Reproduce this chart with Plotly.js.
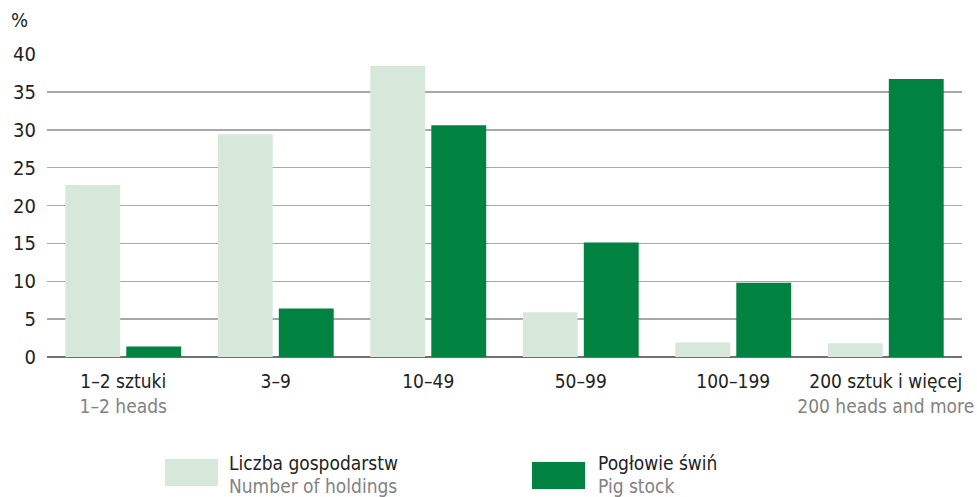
<!DOCTYPE html>
<html>
<head>
<meta charset="utf-8">
<script src="https://cdn.plot.ly/plotly-3.0.1.min.js"></script>
<style>html,body{margin:0;padding:0;background:#fff;}</style>
</head>
<body>
<div id="chart" style="width:977px;height:497px;"></div>
<script>
const categoriesPl = ["1–2 sztuki", "3–9", "10–49", "50–99", "100–199", "200 sztuk i więcej"];
const categoriesEn = ["1–2 heads", "", "", "", "", "200 heads and more"];
const holdings = [22.7, 29.4, 38.4, 5.9, 1.9, 1.8];
const pigStock = [1.4, 6.4, 30.6, 15.1, 9.8, 36.7];
const seriesPl = ["Liczba gospodarstw", "Pogłowie świń"];
const seriesEn = ["Number of holdings", "Pig stock"];
const yTicks = [0, 5, 10, 15, 20, 25, 30, 35, 40];

const FONT = "'Liberation Sans Narrow', 'DejaVu Sans Condensed', Roboto, sans-serif";
const LIGHT = "#d6e8da", DARK = "#008341", GREY = "#828282";

const ticktext = categoriesPl.map((c, i) => categoriesEn[i] ? c + '<br><span style="color:' + GREY + '">' + categoriesEn[i] + '</span>' : c);

const traces = [
  {type: "bar", x: categoriesPl, y: holdings, name: seriesPl[0], marker: {color: LIGHT}, hoverinfo: "y"},
  {type: "bar", x: categoriesPl, y: pigStock, name: seriesPl[1], marker: {color: DARK}, hoverinfo: "y"}
];

const px = x => (x - 47) / 915;
const py = y => (357 - y) / 303;

const layout = {
  width: 977, height: 497,
  margin: {l: 47, r: 15, t: 54, b: 140},
  paper_bgcolor: "#fff", plot_bgcolor: "#fff",
  barmode: "group", bargap: 0.2, bargroupgap: 0.1,
  showlegend: false,
  font: {family: FONT, size: 20, color: "#222"},
  xaxis: {
    type: "category", tickvals: categoriesPl, ticktext: ticktext,
    showgrid: false, showline: false, ticks: "", zeroline: false,
    ticklabelstandoff: 11,
    tickfont: {family: FONT, size: 19, color: "#222"}
  },
  yaxis: {
    range: [0, 40], tickvals: yTicks, ticktext: yTicks.map(String),
    showgrid: true, gridcolor: "#a8a8a8", gridwidth: 1.5,
    zeroline: true, zerolinecolor: "#707070", zerolinewidth: 2,
    showline: false, ticks: "", ticklabelstandoff: 10,
    tickfont: {family: FONT, size: 20, color: "#222"}
  },
  shapes: [
    {type: "rect", xref: "paper", yref: "paper", x0: px(165), x1: px(218), y0: py(459), y1: py(486), fillcolor: LIGHT, line: {width: 0}},
    {type: "rect", xref: "paper", yref: "paper", x0: px(532), x1: px(585), y0: py(462), y1: py(489), fillcolor: DARK, line: {width: 0}}
  ],
  annotations: [
    {text: "%", xref: "paper", yref: "paper", x: px(9), y: py(20), xanchor: "left", yanchor: "middle", showarrow: false, font: {family: FONT, size: 20, color: "#222"}},
    {text: seriesPl[0], xref: "paper", yref: "paper", x: px(227), y: py(463), xanchor: "left", yanchor: "middle", showarrow: false, font: {family: FONT, size: 19, color: "#222"}},
    {text: seriesEn[0], xref: "paper", yref: "paper", x: px(227), y: py(486), xanchor: "left", yanchor: "middle", showarrow: false, font: {family: FONT, size: 19, color: GREY}},
    {text: seriesPl[1], xref: "paper", yref: "paper", x: px(596), y: py(463), xanchor: "left", yanchor: "middle", showarrow: false, font: {family: FONT, size: 19, color: "#222"}},
    {text: seriesEn[1], xref: "paper", yref: "paper", x: px(596), y: py(486), xanchor: "left", yanchor: "middle", showarrow: false, font: {family: FONT, size: 19, color: GREY}}
  ]
};

Plotly.newPlot("chart", traces, layout, {displayModeBar: false, staticPlot: true});
</script>
</body>
</html>
